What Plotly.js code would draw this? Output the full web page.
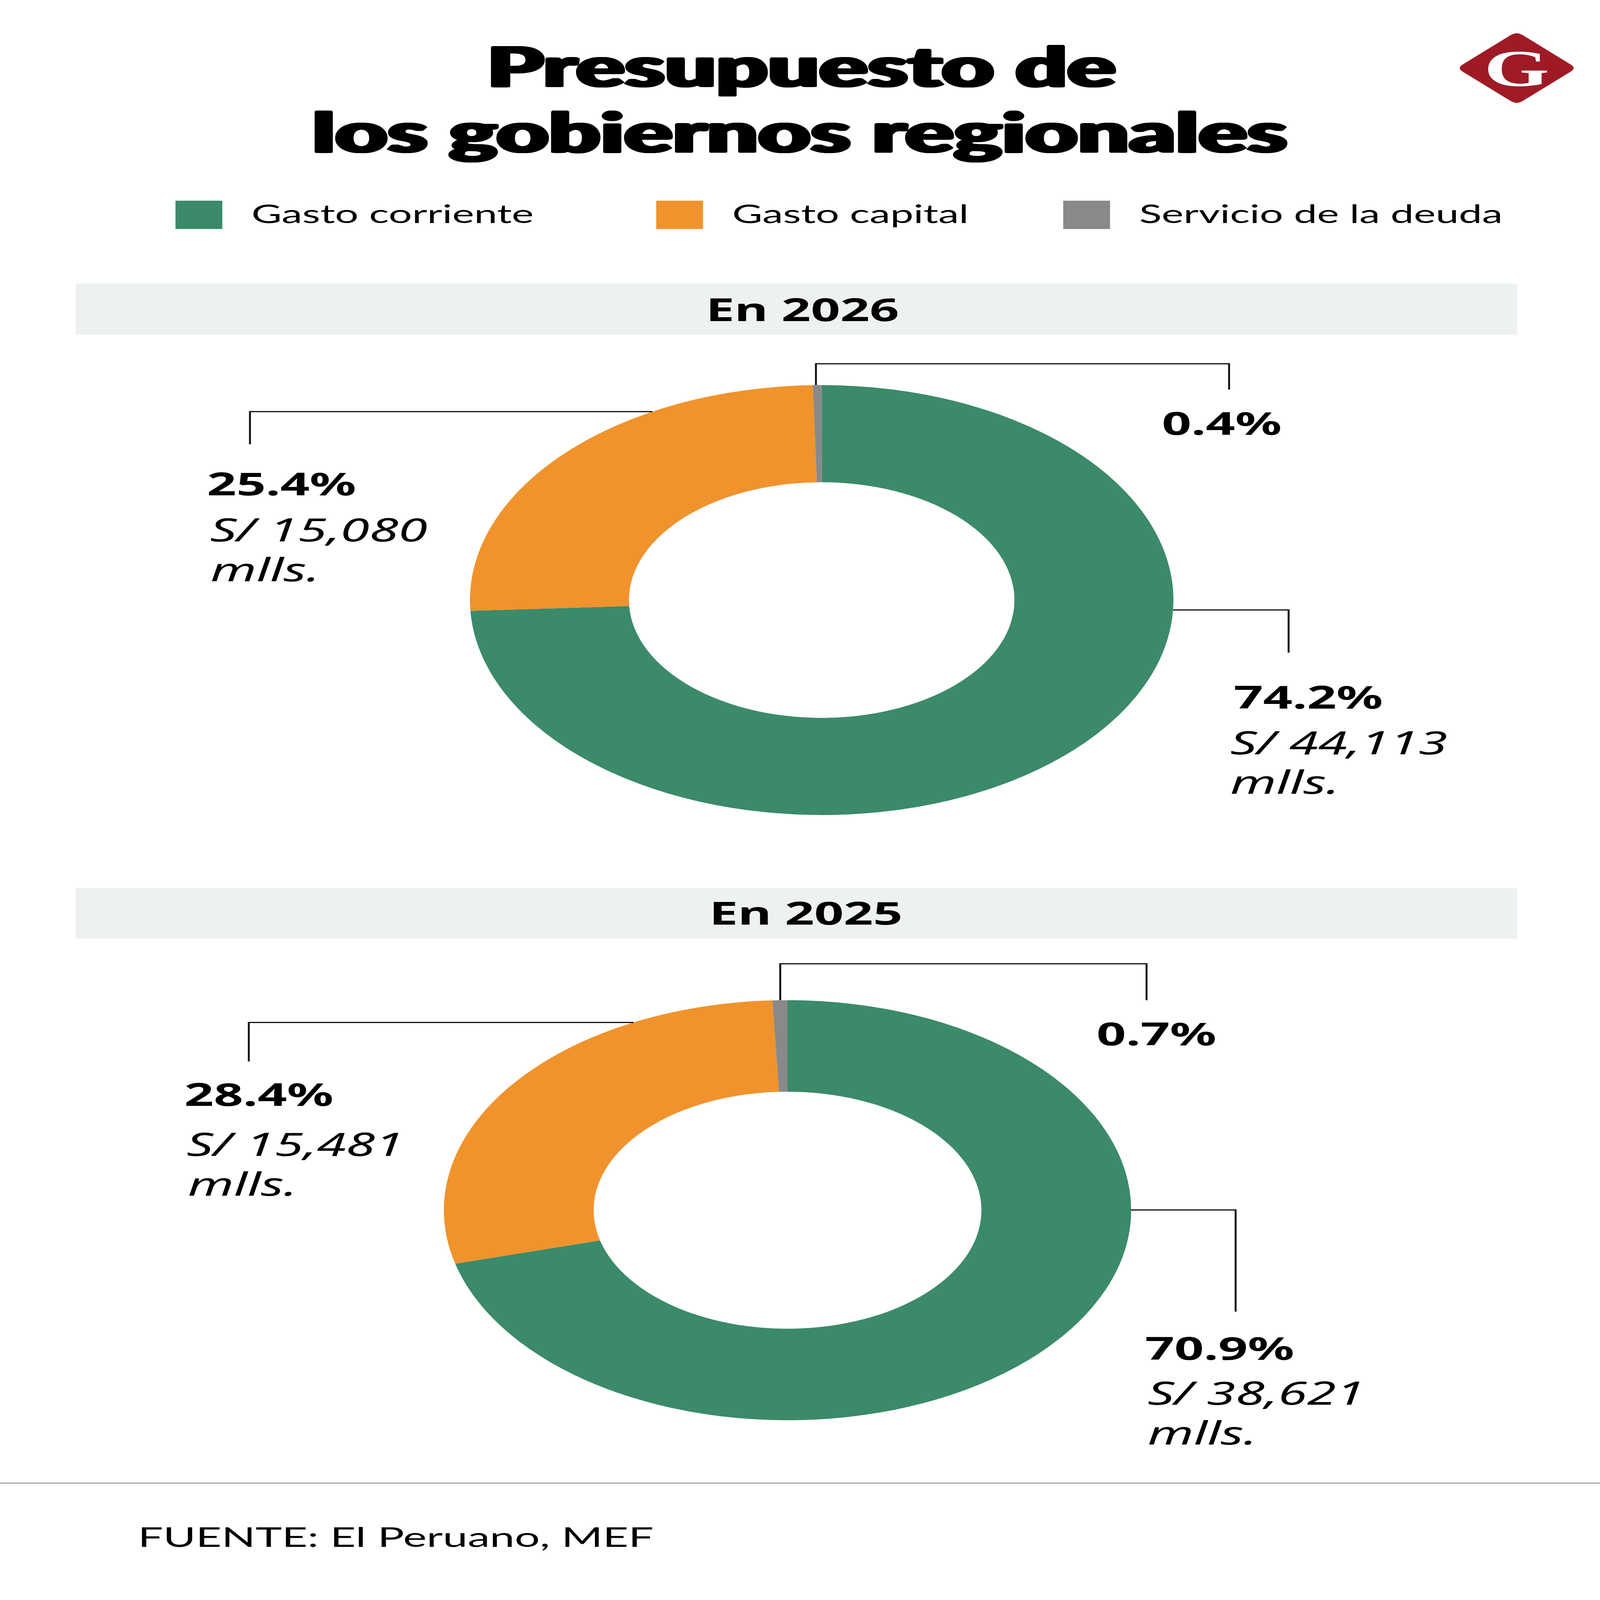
<!DOCTYPE html>
<html>
<head>
<meta charset="utf-8">
<script src="https://cdn.plot.ly/plotly-3.0.1.min.js"></script>
<style>html,body{margin:0;padding:0;background:#ffffff;overflow:hidden;}</style>
</head>
<body>
<div id="chart" style="width:4167px;height:6818px;"></div>
<script>
// ---------------- DATA ----------------
const categories = ['Gasto corriente', 'Gasto capital', 'Servicio de la deuda'];
const panelTitles = ['En 2026', 'En 2025'];
const pct2026 = [74.2, 25.4, 0.4];
const pct2025 = [70.9, 28.4, 0.7];
const amounts2026 = [44113, 15080, null];   // millones de soles
const amounts2025 = [38621, 15481, null];
const titleLines = ['Presupuesto de', 'los gobiernos regionales'];
const sourceText = 'FUENTE: El Peruano, MEF';
const unitText = 'mlls.';

// ---------------- STYLE / GEOMETRY ----------------
const W = 4167, H = 6818;
const colors = ['#3b8a6a', '#f0932d', '#898989'];
const px = x => x / W;
const py = y => 1 - y / H;
const BODY = '"Noto Sans", "Open Sans", sans-serif';
const LEG = 'Lato, "Noto Sans", sans-serif';
const TITLE = 'Lato, "Noto Sans", sans-serif';
const HEAVY = '6px 0 0 #000, -6px 0 0 #000, 4px 2px 0 #000, -4px 2px 0 #000, 4px -2px 0 #000, -4px -2px 0 #000, 0 2px 0 #000, 0 -2px 0 #000';

const donuts = [
  {cx: 2140, cy: 2557, R: 916, r: 502},
  {cx: 2051, cy: 5157, R: 895, r: 505}
];

function pieTrace(values, d) {
  return {
    type: 'pie', values: values, labels: categories,
    marker: {colors: colors, line: {width: 0}},
    hole: d.r / d.R, sort: false, direction: 'clockwise', rotation: 0,
    textinfo: 'none', hoverinfo: 'label+percent', showlegend: false,
    domain: {x: [px(d.cx - d.R), px(d.cx + d.R)], y: [py(d.cy + d.R), py(d.cy - d.R)]}
  };
}

const data = [pieTrace(pct2026, donuts[0]), pieTrace(pct2025, donuts[1])];

const shapes = [];
const annotations = [];

function path(pts) {
  return pts.map((p, i) => (i ? 'L' : 'M') + px(p[0]).toFixed(6) + ',' + py(p[1]).toFixed(6)).join(' ');
}
function line(pts, w) {
  shapes.push({type: 'path', xref: 'paper', yref: 'paper', path: path(pts),
    line: {color: '#111111', width: w || 5}, fillcolor: 'rgba(0,0,0,0)'});
}
function rect(x0, y0, x1, y1, fill) {
  shapes.push({type: 'rect', xref: 'paper', yref: 'paper', x0: px(x0), x1: px(x1), y0: py(y1), y1: py(y0),
    fillcolor: fill, line: {width: 0}, layer: 'below'});
}
function text(t, x, baseline, size, opts) {
  opts = opts || {};
  const fam = opts.family || BODY;
  const k = opts.k || 0.388;
  const font = {family: fam, size: size, color: opts.color || '#000000', weight: opts.weight || 400, style: opts.style || 'normal'};
  if (opts.shadow) font.shadow = opts.shadow;
  annotations.push({
    xref: 'paper', yref: 'paper', showarrow: false,
    x: px(x), y: py(baseline - k * size),
    xanchor: opts.anchor || 'left', yanchor: 'middle',
    text: t, font: font
  });
}

// ---- title ----
text(titleLines[0], 2087, 369, 236, {family: TITLE, weight: 900, anchor: 'center', k: 0.387, shadow: HEAVY});
text(titleLines[1], 2083, 649, 236, {family: TITLE, weight: 900, anchor: 'center', k: 0.387, shadow: HEAVY});

// ---- logo ----
(function () {
  const cx = 3950, cy = 290, h = 156, d = 22, s = d * Math.SQRT1_2;
  const T = [cx, cy - h], R = [cx + h, cy], B = [cx, cy + h], L = [cx - h, cy];
  const f = p => px(p[0]).toFixed(6) + ',' + py(p[1]).toFixed(6);
  const p = 'M' + f([T[0] + s, T[1] + s]) +
    ' L' + f([R[0] - s, R[1] - s]) + ' Q' + f(R) + ' ' + f([R[0] - s, R[1] + s]) +
    ' L' + f([B[0] + s, B[1] - s]) + ' Q' + f(B) + ' ' + f([B[0] - s, B[1] - s]) +
    ' L' + f([L[0] + s, L[1] + s]) + ' Q' + f(L) + ' ' + f([L[0] + s, L[1] - s]) +
    ' L' + f([T[0] - s, T[1] + s]) + ' Q' + f(T) + ' ' + f([T[0] + s, T[1] + s]) + ' Z';
  shapes.push({type: 'path', xref: 'paper', yref: 'paper', path: p, fillcolor: '#9e1b26', line: {width: 0}});
  text('G', cx, 366, 218, {family: '"Liberation Serif", "DejaVu Serif", serif', weight: 700, anchor: 'center', color: '#ffffff', k: 0.3375});
})();

// ---- legend ----
const legendX = [457, 1709, 2769];
categories.forEach((c, i) => {
  rect(legendX[i], 855, legendX[i] + 122, 976, colors[i]);
  text(c, legendX[i] + 196, 951, 108, {family: LEG, k: 0.387});
});

// ---- panel bands ----
const bands = [{y0: 1209, y1: 1427, tx: 2090, base: 1369}, {y0: 3783, y1: 4000, tx: 2099, base: 3940}];
bands.forEach((b, i) => {
  rect(197, b.y0, 3951, b.y1, '#eef2ee');
  text(panelTitles[i], b.tx, b.base, 134, {weight: 700, anchor: 'center'});
});

// ---- leader lines ----
line([[2125, 1641], [2125, 1550], [3201, 1550], [3201, 1660]]);
line([[1699, 1754], [651, 1754], [651, 1893]]);
line([[3055, 2599], [3356, 2599], [3356, 2781]]);
line([[2032, 4262], [2032, 4107], [2986, 4107], [2986, 4262]]);
line([[1650, 4357], [648, 4357], [648, 4523]]);
line([[2946, 5156], [3218, 5156], [3218, 5589]]);

// ---- value labels ----
const fmtPct = v => v.toFixed(1) + '%';
const fmtAmt = v => 'S/ ' + v.toLocaleString('en-US');
const labelPos = [
  [ // 2026
    {p: [3211, 3020], a: [3202, 3214], m: [3202, 3383]},
    {p: [537, 2110], a: [545, 2307], m: [546, 2477]},
    {p: [3024, 1852]}
  ],
  [ // 2025
    {p: [2980, 5795], a: [2987, 5986], m: [2987, 6156]},
    {p: [478, 4712], a: [484, 4926], m: [487, 5095]},
    {p: [2854, 4455]}
  ]
];
[[pct2026, amounts2026], [pct2025, amounts2025]].forEach((set, k) => {
  set[0].forEach((v, i) => {
    const pos = labelPos[k][i];
    text(fmtPct(v), pos.p[0], pos.p[1], 134, {weight: 700});
    if (set[1][i] != null) {
      text(fmtAmt(set[1][i]), pos.a[0], pos.a[1], 137, {style: 'italic'});
      text(unitText, pos.m[0], pos.m[1], 137, {style: 'italic'});
    }
  });
});

// ---- footer ----
shapes.push({type: 'line', xref: 'paper', yref: 'paper', x0: 0, x1: 1, y0: py(6320), y1: py(6320), line: {color: '#9a9a9a', width: 4}});
text(sourceText, 357, 6591, 116, {family: LEG, k: 0.387});

const layout = {
  width: W, height: H,
  margin: {l: 0, r: 0, t: 0, b: 0, pad: 0},
  paper_bgcolor: '#ffffff', plot_bgcolor: '#ffffff',
  showlegend: false,
  shapes: shapes, annotations: annotations
};
Plotly.newPlot('chart', data, layout, {staticPlot: true, displayModeBar: false}).then(() => {
  // If the browser window is smaller than the figure, fit the whole figure into it.
  const sx = Math.min(1, window.innerWidth / W), sy = Math.min(1, window.innerHeight / H);
  if (sx < 1 || sy < 1) {
    const el = document.getElementById('chart');
    el.style.transformOrigin = '0 0';
    el.style.transform = 'scale(' + sx + ',' + sy + ')';
  }
});
</script>
</body>
</html>
